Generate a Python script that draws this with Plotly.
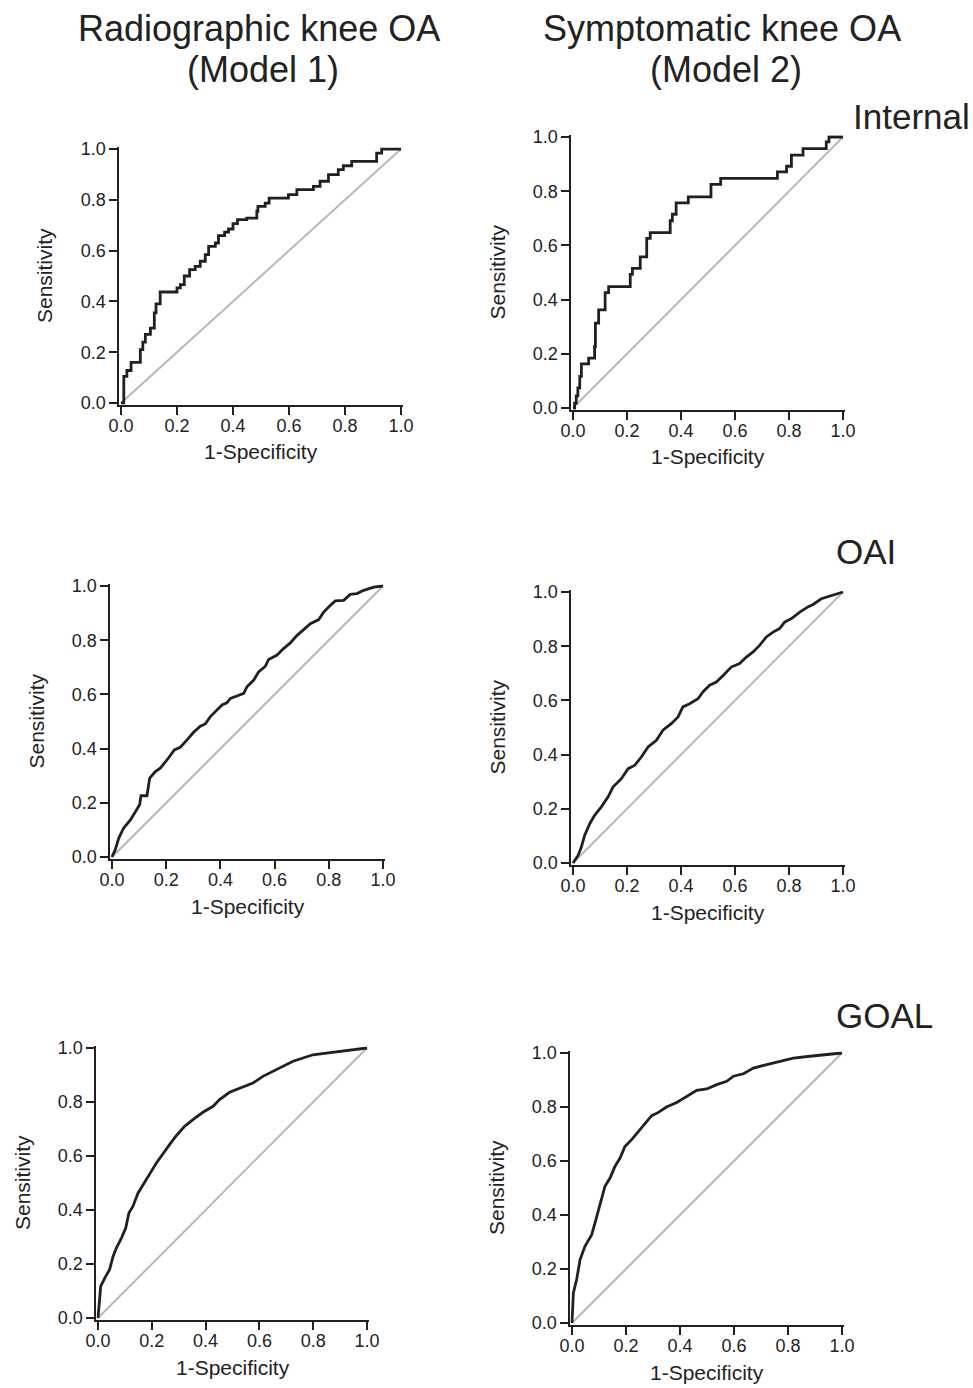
import plotly.graph_objects as go

# ---------------- data ----------------
col_titles = ["Radiographic knee OA", "Symptomatic knee OA"]
col_models = ["(Model 1)", "(Model 2)"]
row_labels = ["Internal", "OAI", "GOAL"]
tick_vals = [0.0, 0.2, 0.4, 0.6, 0.8, 1.0]
tick_text = ["0.0", "0.2", "0.4", "0.6", "0.8", "1.0"]
x_title = "1-Specificity"
y_title = "Sensitivity"

# Internal validation, Model 1 (step curve)
int_m1_fpr = [0, 0.01, 0.021, 0.036, 0.069, 0.078, 0.087, 0.105, 0.119, 0.125, 0.14,
              0.2, 0.212, 0.226, 0.245, 0.265, 0.283, 0.301, 0.313, 0.337, 0.348,
              0.37, 0.384, 0.4, 0.416, 0.449, 0.485, 0.489, 0.515, 0.529, 0.598,
              0.628, 0.687, 0.711, 0.741, 0.776, 0.794, 0.824, 0.913, 0.931, 1.0]
int_m1_tpr = [0, 0.105, 0.128, 0.16, 0.21, 0.24, 0.27, 0.295, 0.355, 0.39, 0.437,
              0.453, 0.466, 0.5, 0.525, 0.538, 0.558, 0.584, 0.617, 0.63, 0.659,
              0.673, 0.685, 0.706, 0.722, 0.728, 0.755, 0.774, 0.787, 0.807, 0.82,
              0.84, 0.853, 0.873, 0.899, 0.919, 0.934, 0.951, 0.984, 1.0, 1.0]

# Internal validation, Model 2 (step curve)
int_m2_fpr = [0, 0.006, 0.012, 0.018, 0.025, 0.031, 0.058, 0.08, 0.083, 0.095, 0.119,
              0.132, 0.212, 0.22, 0.249, 0.273, 0.286, 0.36, 0.368, 0.382, 0.427,
              0.511, 0.547, 0.757, 0.791, 0.809, 0.852, 0.938, 0.948, 1.0]
int_m2_tpr = [0, 0.018, 0.045, 0.074, 0.117, 0.163, 0.184, 0.227, 0.313, 0.362, 0.426,
              0.448, 0.493, 0.515, 0.558, 0.626, 0.647, 0.691, 0.715, 0.757, 0.779,
              0.825, 0.847, 0.871, 0.892, 0.933, 0.957, 0.982, 1.0, 1.0]

# OAI, Model 1
oai_m1_fpr = [0, 0.012, 0.025, 0.043, 0.068, 0.092, 0.102, 0.107, 0.129, 0.139, 0.16,
              0.178, 0.203, 0.23, 0.252, 0.277, 0.301, 0.326, 0.344, 0.363, 0.387,
              0.406, 0.424, 0.437, 0.461, 0.486, 0.498, 0.523, 0.541, 0.566, 0.578,
              0.609, 0.633, 0.658, 0.683, 0.707, 0.732, 0.763, 0.781, 0.806, 0.824,
              0.855, 0.879, 0.904, 0.929, 0.966, 1.0]
oai_m1_tpr = [0, 0.027, 0.07, 0.107, 0.137, 0.174, 0.193, 0.226, 0.226, 0.291, 0.315,
              0.328, 0.358, 0.395, 0.405, 0.432, 0.46, 0.483, 0.491, 0.518, 0.542,
              0.561, 0.569, 0.585, 0.594, 0.604, 0.628, 0.653, 0.683, 0.704, 0.729,
              0.745, 0.769, 0.79, 0.818, 0.839, 0.861, 0.876, 0.904, 0.929, 0.945,
              0.947, 0.969, 0.972, 0.984, 0.996, 1.0]

# OAI, Model 2
oai_m2_fpr = [0, 0.019, 0.031, 0.043, 0.062, 0.08, 0.105, 0.13, 0.148, 0.179, 0.204,
              0.228, 0.253, 0.278, 0.309, 0.333, 0.364, 0.389, 0.407, 0.432, 0.463,
              0.481, 0.506, 0.531, 0.556, 0.586, 0.617, 0.642, 0.667, 0.691, 0.716,
              0.741, 0.765, 0.784, 0.809, 0.84, 0.87, 0.889, 0.92, 0.951, 0.975, 1.0]
oai_m2_tpr = [0, 0.028, 0.059, 0.102, 0.145, 0.176, 0.207, 0.244, 0.28, 0.311, 0.348,
              0.36, 0.391, 0.428, 0.453, 0.49, 0.514, 0.539, 0.576, 0.588, 0.606,
              0.631, 0.656, 0.668, 0.692, 0.723, 0.736, 0.76, 0.779, 0.803, 0.834,
              0.852, 0.865, 0.889, 0.902, 0.926, 0.945, 0.954, 0.975, 0.984, 0.991, 1.0]

# GOAL, Model 1
goal_m1_fpr = [0, 0.006, 0.01, 0.025, 0.043, 0.056, 0.068, 0.087, 0.103, 0.115, 0.13,
               0.149, 0.167, 0.186, 0.198, 0.217, 0.242, 0.266, 0.291, 0.322, 0.353,
               0.39, 0.428, 0.452, 0.489, 0.527, 0.576, 0.613, 0.651, 0.688, 0.725,
               0.762, 0.799, 0.849, 0.898, 0.948, 1.0]
goal_m1_tpr = [0, 0.08, 0.117, 0.148, 0.179, 0.228, 0.259, 0.296, 0.333, 0.389, 0.414,
               0.463, 0.494, 0.525, 0.543, 0.574, 0.611, 0.642, 0.675, 0.71, 0.735,
               0.762, 0.784, 0.809, 0.836, 0.852, 0.87, 0.895, 0.914, 0.935, 0.951,
               0.963, 0.975, 0.981, 0.988, 0.994, 1.0]

# GOAL, Model 2
goal_m2_fpr = [0, 0.005, 0.017, 0.03, 0.048, 0.073, 0.085, 0.098, 0.11, 0.122, 0.141,
               0.159, 0.178, 0.196, 0.221, 0.246, 0.27, 0.295, 0.32, 0.35, 0.388,
               0.425, 0.462, 0.499, 0.536, 0.573, 0.598, 0.635, 0.672, 0.721, 0.77,
               0.82, 0.881, 0.943, 1.0]
goal_m2_tpr = [0, 0.111, 0.16, 0.235, 0.284, 0.327, 0.37, 0.42, 0.469, 0.506, 0.537,
               0.58, 0.611, 0.654, 0.679, 0.71, 0.741, 0.768, 0.78, 0.8, 0.817,
               0.84, 0.862, 0.867, 0.883, 0.895, 0.914, 0.923, 0.944, 0.957, 0.969,
               0.981, 0.988, 0.994, 1.0]

diag = [0.0, 1.0]

panels = [
    (int_m1_fpr, int_m1_tpr, "hv"),
    (int_m2_fpr, int_m2_tpr, "hv"),
    (oai_m1_fpr, oai_m1_tpr, "linear"),
    (oai_m2_fpr, oai_m2_tpr, "linear"),
    (goal_m1_fpr, goal_m1_tpr, "linear"),
    (goal_m2_fpr, goal_m2_tpr, "linear"),
]

# ---------------- layout geometry (pixels) ----------------
W, H = 973, 1388
# (x at 0, x at 1, y at 1 (top), y at 0 (bottom))
boxes = [
    (121, 401, 149, 403),
    (573, 843, 137, 408),
    (112, 383, 586, 857),
    (573, 843, 592, 863),
    (98, 367, 1048, 1318),
    (572, 842, 1053, 1323),
]
PAD = 0.006

FONT = "Liberation Sans, Arial, Helvetica, sans-serif"
INK = "#231f20"
TXT = "#222222"

fig = go.Figure()
annotations = []

def px(x):
    return x / W

def py(y):
    return 1 - y / H

for i, ((fpr, tpr, shape), (x0, x1, yt, yb)) in enumerate(zip(panels, boxes)):
    n = "" if i == 0 else str(i + 1)
    xa, ya = "x" + n, "y" + n
    fig.add_trace(go.Scatter(x=diag, y=diag, mode="lines", xaxis=xa, yaxis=ya,
                             line=dict(color="#b8b8b8", width=2), showlegend=False,
                             hoverinfo="skip"))
    fig.add_trace(go.Scatter(x=fpr, y=tpr, mode="lines", xaxis=xa, yaxis=ya,
                             line=dict(color=INK, width=2.8, shape=shape),
                             showlegend=False))
    wpx, hpx = x1 - x0, yb - yt
    dom_x = [px(x0 - PAD * wpx), px(x1 + PAD * wpx)]
    dom_y = [py(yb + PAD * hpx), py(yt - PAD * hpx)]
    common = dict(range=[-PAD, 1 + PAD], tickvals=tick_vals, ticktext=tick_text,
                  showgrid=False, zeroline=False, showline=True, linecolor=INK,
                  linewidth=2, ticks="outside", ticklen=8, tickwidth=2,
                  tickcolor=INK, tickfont=dict(family=FONT, size=18, color=TXT),
                  fixedrange=True, automargin=False)
    fig.update_layout(**{
        "xaxis" + n: dict(domain=dom_x, anchor=ya, ticklabelstandoff=-4, **common),
        "yaxis" + n: dict(domain=dom_y, anchor=xa, **common),
    })
    annotations.append(dict(text=x_title, xref="paper", yref="paper",
                            x=px((x0 + x1) / 2), y=py(yb + 49), xanchor="center",
                            yanchor="middle", showarrow=False,
                            font=dict(family=FONT, size=21, color=TXT)))
    annotations.append(dict(text=y_title, xref="paper", yref="paper",
                            x=px(x0 - 76), y=py((yt + yb) / 2), xanchor="center",
                            yanchor="middle", textangle=-90, showarrow=False,
                            font=dict(family=FONT, size=21, color=TXT)))

# column headers
for cx, t1, t2 in [(259, col_titles[0], col_models[0]), (722, col_titles[1], col_models[1])]:
    annotations.append(dict(text=t1, xref="paper", yref="paper", x=px(cx), y=py(28),
                            xanchor="center", yanchor="middle", showarrow=False,
                            font=dict(family=FONT, size=36, color=TXT)))
    annotations.append(dict(text=t2, xref="paper", yref="paper", x=px(cx + 4), y=py(69),
                            xanchor="center", yanchor="middle", showarrow=False,
                            font=dict(family=FONT, size=36, color=TXT)))

# row labels
for (lx, ly), lab in zip([(851, 117), (834, 551), (834, 1015)], row_labels):
    annotations.append(dict(text=lab, xref="paper", yref="paper", x=px(lx), y=py(ly),
                            xanchor="left", yanchor="middle", showarrow=False,
                            font=dict(family=FONT, size=35, color=TXT)))

fig.update_layout(width=W, height=H, margin=dict(l=0, r=0, t=0, b=0, pad=0),
                  autosize=False, template="none",
                  paper_bgcolor="white", plot_bgcolor="white",
                  annotations=annotations, showlegend=False)

fig.write_html("out.html", config={"displayModeBar": False},
               post_script="document.body.style.margin='0';"
                           "document.body.style.overflow='hidden';")
